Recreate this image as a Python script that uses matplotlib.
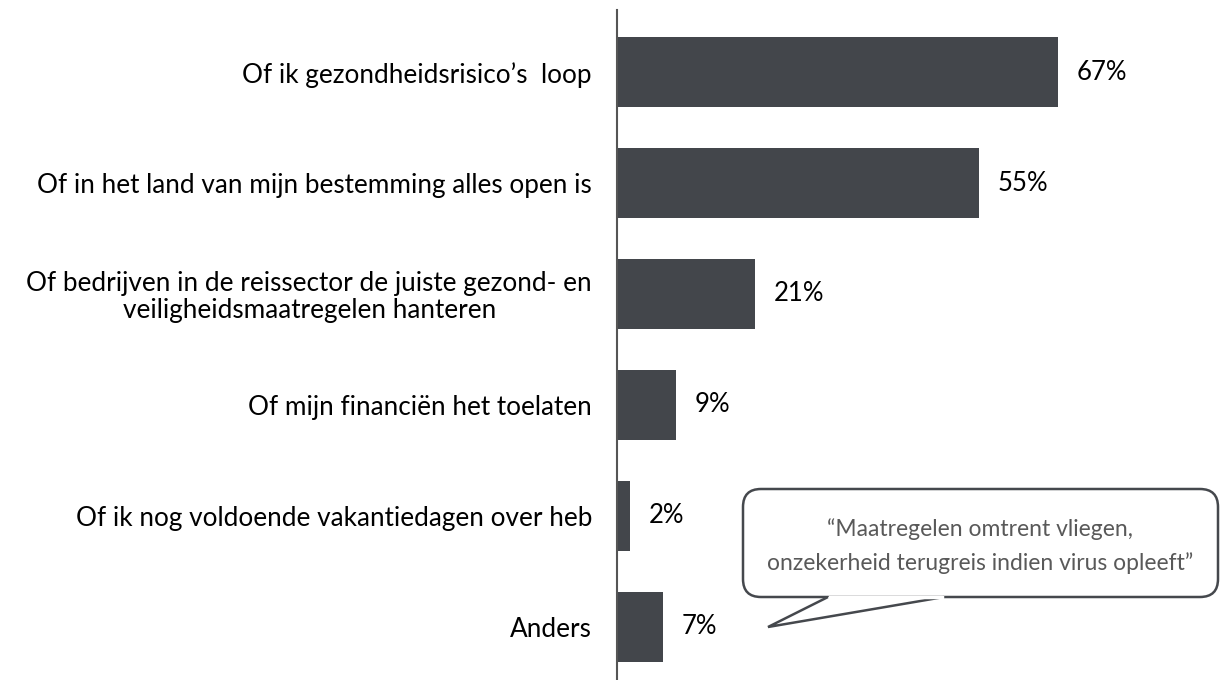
import matplotlib
matplotlib.use("Agg")
import matplotlib.pyplot as plt
from matplotlib.patches import FancyBboxPatch, Polygon

plt.rcParams['font.family'] = ['Lato', 'DejaVu Sans']

categories = [
    "Of ik gezondheidsrisico\u2019s  loop",
    "Of in het land van mijn bestemming alles open is",
    "Of bedrijven in de reissector de juiste gezond- en\nveiligheidsmaatregelen hanteren",
    "Of mijn financi\u00ebn het toelaten",
    "Of ik nog voldoende vakantiedagen over heb",
    "Anders",
]
values = [67, 55, 21, 9, 2, 7]
quote = "\u201cMaatregelen omtrent vliegen,\nonzekerheid terugreis indien virus opleeft\u201d"

bar_color = "#43464b"

fig = plt.figure(figsize=(12.2, 6.8), dpi=100)
ax = fig.add_axes([617 / 1220, 0, 603 / 1220, 670 / 680])

y = range(len(values))
ax.barh(y, values, height=0.63, color=bar_color)
ax.set_xlim(0, 603 / 6.58)
ax.set_ylim(5.48, -0.56)

for i, v in enumerate(values):
    ax.text(v + 2.8, i, f"{v}%", va='center', ha='left', fontsize=18.5, color='black')

ax.set_yticks(list(y))
ax.set_yticklabels(categories, fontsize=18.8, multialignment='center', linespacing=1.1)
ax.tick_params(axis='y', length=0, pad=18)
ax.set_xticks([])
for s in ['top', 'right', 'bottom']:
    ax.spines[s].set_visible(False)
ax.spines['left'].set_color('#555555')
ax.spines['left'].set_linewidth(1.5)

# speech bubble drawn in pixel coordinates on an overlay
ov = fig.add_axes([0, 0, 1, 1], facecolor='none')
ov.set_xlim(0, 1220)
ov.set_ylim(680, 0)
ov.axis('off')
box = FancyBboxPatch((743, 489), 475, 108, boxstyle="round,pad=0,rounding_size=18",
                     facecolor='white', edgecolor='#45484d', linewidth=1.8)
ov.add_patch(box)
tail = Polygon([(828, 597), (768, 627), (944, 597)], closed=False,
               facecolor='white', edgecolor='#45484d', linewidth=1.8, zorder=3)
ov.add_patch(tail)
ov.plot([830, 942], [597, 597], color='white', linewidth=2.5, zorder=4)
ov.text(980, 546, quote, ha='center', va='center', fontsize=16.5,
        color='#595959', linespacing=1.7)

fig.savefig("out.png", dpi=100)
